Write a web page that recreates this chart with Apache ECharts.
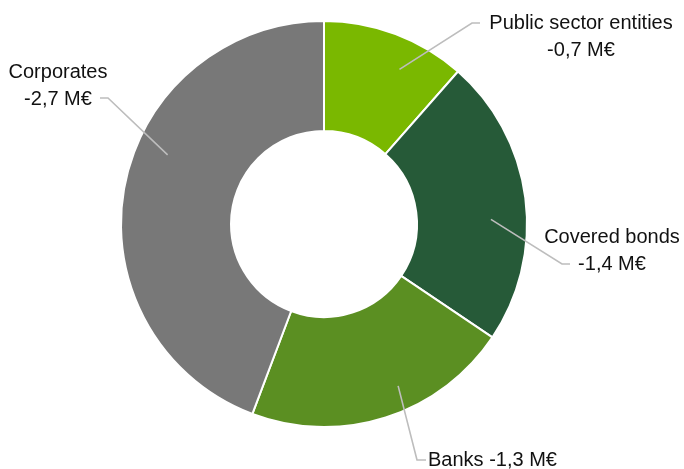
<!DOCTYPE html>
<html>
<head>
<meta charset="utf-8">
<script src="https://cdn.jsdelivr.net/npm/echarts@6/dist/echarts.min.js"></script>
<style>
  html, body { margin: 0; padding: 0; background: #ffffff; }
  #chart { width: 684px; height: 469px; }
</style>
</head>
<body>
<div id="chart"></div>
<script>
// Result by counterparty type, in millions of euros
const categories = ['Public sector entities', 'Covered bonds', 'Banks', 'Corporates'];
const values = [-0.7, -1.4, -1.3, -2.7];
const colors = ['#7ab800', '#265a38', '#5b8f22', '#787878'];

// Ring geometry (pixels)
const CX = 324, CY = 224, R_IN = 93, R_OUT = 203;

// Where each label sits, where its leader line bends, and where inside the
// slice the leader starts (fraction of the slice's sweep, radius in pixels)
const labelPlacement = [
  { x: 581, y: 37, align: 'center', elbow: [472, 23], end: [480, 23], t: 0.63, r: 172 },
  { x: 612, y: 251, align: 'center', elbow: [562, 264], end: [570, 264], t: 0.57, r: 167 },
  { x: 428, y: 460, align: 'left', elbow: [417, 460], end: [426, 460], t: 0.41, r: 178 },
  { x: 58, y: 86, align: 'center', elbow: [108, 98], end: [100, 98], t: 0.585, r: 171 }
];

function fmt(v) {
  return v.toFixed(1).replace('.', ',') + ' M€';
}

// Start and sweep (degrees, clockwise from 12 o'clock) of each slice
const total = values.reduce((s, v) => s + Math.abs(v), 0);
const sliceStart = [], sliceSweep = [];
let acc = 0;
values.forEach(v => {
  const a = Math.abs(v) / total * 360;
  sliceStart.push(acc);
  sliceSweep.push(a);
  acc += a;
});

const sliceData = categories.map((c, i) => ({
  name: c,
  value: Math.abs(values[i]),
  itemStyle: { color: colors[i] }
}));

const base = {
  type: 'pie',
  center: [CX, CY],
  radius: [R_IN, R_OUT],
  startAngle: 90,
  clockwise: true,
  avoidLabelOverlap: false
};

const chart = echarts.init(document.getElementById('chart'), null, { renderer: 'canvas' });

chart.setOption({
  animation: false,
  series: [
    // the ring itself
    Object.assign({}, base, {
      z: 2,
      itemStyle: { borderColor: '#ffffff', borderWidth: 2 },
      label: { show: false },
      labelLine: { show: false },
      data: sliceData
    }),
    // transparent copy on top that carries the labels and leader lines
    Object.assign({}, base, {
      z: 5,
      silent: true,
      itemStyle: { color: 'rgba(0,0,0,0)', borderWidth: 0 },
      label: {
        show: true,
        position: 'outside',
        color: '#111111',
        fontFamily: '"Liberation Sans", Arial, sans-serif',
        fontSize: 20,
        lineHeight: 27,
        formatter: function (p) {
          const v = values[p.dataIndex];
          return p.dataIndex === 2 ? p.name + ' ' + fmt(v) : p.name + '\n' + fmt(v);
        }
      },
      labelLine: {
        show: true,
        lineStyle: { color: '#bdbdbd', width: 1.6 }
      },
      labelLayout: function (p) {
        const i = p.dataIndex;
        const lp = labelPlacement[i];
        const rad = (sliceStart[i] + lp.t * sliceSweep[i]) * Math.PI / 180;
        const start = [CX + lp.r * Math.sin(rad), CY - lp.r * Math.cos(rad)];
        return {
          x: lp.x,
          y: lp.y,
          align: lp.align,
          verticalAlign: 'middle',
          labelLinePoints: [start, lp.elbow, lp.end]
        };
      },
      data: sliceData.map(d => ({ name: d.name, value: d.value }))
    })
  ]
});
</script>
</body>
</html>
